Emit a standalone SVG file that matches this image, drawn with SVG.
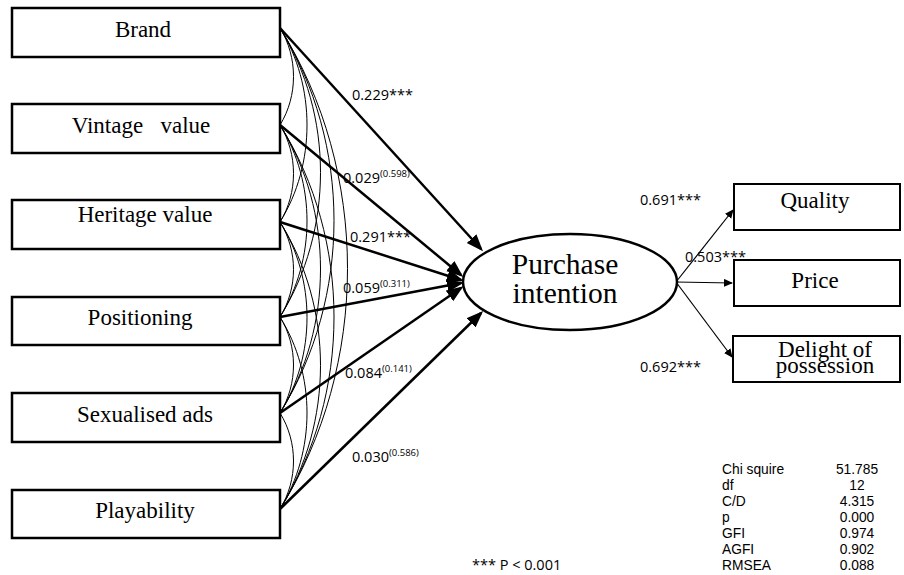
<svg xmlns="http://www.w3.org/2000/svg" width="904" height="575" viewBox="0 0 904 575">
<style>
.box{fill:#fff;stroke:#000;stroke-width:2.5}
.rbox{fill:#fff;stroke:#000;stroke-width:2}
.ser{font-family:"Liberation Serif","Times New Roman",serif;font-size:23px;fill:#000}
.lab{font-family:"Open Sans","Liberation Sans",sans-serif;font-size:14.5px;fill:#000}
.sup{font-size:9.5px}
.st{font-family:"Liberation Sans",Arial,sans-serif;font-size:13.8px;fill:#000}
.main{fill:none;stroke:#000;stroke-width:2.5}
.thin{fill:none;stroke:#000;stroke-width:1.2}
.cor{fill:none;stroke:#000;stroke-width:1}
</style>
<defs>
<marker id="big" markerUnits="userSpaceOnUse" markerWidth="18" markerHeight="14" refX="14" refY="6.5" orient="auto">
<path d="M0,0 L17,6.5 L0,13 z" fill="#000"/>
</marker>
<marker id="small" markerUnits="userSpaceOnUse" markerWidth="10" markerHeight="9" refX="8" refY="4" orient="auto">
<path d="M0,0 L9,4 L0,8 z" fill="#000"/>
</marker>
</defs>
<rect width="904" height="575" fill="#fff"/>

<g id="connectors">
<g id="correlations">
<path class="cor" d="M280,28 C298,57 298,96 280,125"/>
<path class="cor" d="M280,28 C316,86 316,164 280,222"/>
<path class="cor" d="M280,28 C334,115 334,230 280,317"/>
<path class="cor" d="M280,28 C352,144 352,297 280,413"/>
<path class="cor" d="M280,28 C370,172 370,365 280,509"/>
<path class="cor" d="M280,125 C298,154 298,193 280,222"/>
<path class="cor" d="M280,125 C316,183 316,259 280,317"/>
<path class="cor" d="M280,125 C334,211 334,327 280,413"/>
<path class="cor" d="M280,125 C352,240 352,394 280,509"/>
<path class="cor" d="M280,222 C298,251 298,288 280,317"/>
<path class="cor" d="M280,222 C316,279 316,356 280,413"/>
<path class="cor" d="M280,222 C334,308 334,423 280,509"/>
<path class="cor" d="M280,317 C298,346 298,384 280,413"/>
<path class="cor" d="M280,317 C316,375 316,451 280,509"/>
<path class="cor" d="M280,413 C298,442 298,480 280,509"/>
</g>
<path class="main" d="M280,28 L481,249" marker-end="url(#big)"/>
<path class="main" d="M280,125 L461,275" marker-end="url(#big)"/>
<path class="main" d="M280,222 L461,280" marker-end="url(#big)"/>
<path class="main" d="M280,317 L461,283" marker-end="url(#big)"/>
<path class="main" d="M280,413 L461,288" marker-end="url(#big)"/>
<path class="main" d="M280,509 L481,313" marker-end="url(#big)"/>
<path class="thin" d="M676,282 L733,210" marker-end="url(#small)"/>
<path class="thin" d="M676,282 L732,283" marker-end="url(#small)"/>
<path class="thin" d="M676,282 L732,357" marker-end="url(#small)"/>
</g>

<g id="brand"><rect class="box" x="12" y="8" width="268" height="49"/><text class="ser" x="143" y="37" text-anchor="middle">Brand</text></g>
<g id="vintage"><rect class="box" x="12" y="104" width="268" height="49"/><text class="ser" x="141" y="133" text-anchor="middle" xml:space="preserve" style="white-space:pre">Vintage   value</text></g>
<g id="heritage"><rect class="box" x="12" y="200" width="268" height="49"/><text class="ser" x="145" y="222" text-anchor="middle">Heritage value</text></g>
<g id="positioning"><rect class="box" x="12" y="297" width="268" height="48"/><text class="ser" x="140" y="325" text-anchor="middle">Positioning</text></g>
<g id="sexualised"><rect class="box" x="12" y="393" width="268" height="49"/><text class="ser" x="145" y="422" text-anchor="middle">Sexualised ads</text></g>
<g id="playability"><rect class="box" x="12" y="490" width="268" height="48"/><text class="ser" x="145" y="518" text-anchor="middle">Playability</text></g>

<g id="purchase"><ellipse cx="570" cy="282" rx="107" ry="48" fill="#fff" stroke="#000" stroke-width="2.5"/>
<text class="ser" style="font-size:29.5px" x="565" y="274" text-anchor="middle">Purchase</text>
<text class="ser" style="font-size:29.5px" x="565" y="303" text-anchor="middle">intention</text></g>

<g id="quality"><rect class="rbox" x="734" y="184" width="166" height="46"/><text class="ser" x="815" y="208" text-anchor="middle">Quality</text></g>
<g id="price"><rect class="rbox" x="734" y="260" width="166" height="46"/><text class="ser" x="815" y="288" text-anchor="middle">Price</text></g>
<g id="delight"><rect class="rbox" x="733" y="336" width="167" height="46"/><text class="ser" x="825" y="357" text-anchor="middle">Delight of</text><text class="ser" x="825" y="373" text-anchor="middle">possession</text></g>

<g id="labels">
<text class="lab" x="352" y="100">0.229***</text>
<text class="lab" x="343" y="183">0.029<tspan class="sup" dy="-6">(0.598)</tspan></text>
<text class="lab" x="350" y="242">0.291***</text>
<text class="lab" x="343" y="293">0.059<tspan class="sup" dy="-6">(0.311)</tspan></text>
<text class="lab" x="345" y="378">0.084<tspan class="sup" dy="-6">(0.141)</tspan></text>
<text class="lab" x="352" y="462">0.030<tspan class="sup" dy="-6">(0.586)</tspan></text>
<text class="lab" x="640" y="205">0.691***</text>
<text class="lab" x="685" y="262">0.503***</text>
<text class="lab" x="640" y="372">0.692***</text>
</g>

<g id="stats">
<text class="st" x="722" y="474">Chi squire</text><text class="st" x="857" y="474" text-anchor="middle">51.785</text>
<text class="st" x="722" y="490">df</text><text class="st" x="857" y="490" text-anchor="middle">12</text>
<text class="st" x="722" y="506">C/D</text><text class="st" x="857" y="506" text-anchor="middle">4.315</text>
<text class="st" x="722" y="522">p</text><text class="st" x="857" y="522" text-anchor="middle">0.000</text>
<text class="st" x="722" y="538">GFI</text><text class="st" x="857" y="538" text-anchor="middle">0.974</text>
<text class="st" x="722" y="554">AGFI</text><text class="st" x="857" y="554" text-anchor="middle">0.902</text>
<text class="st" x="722" y="570">RMSEA</text><text class="st" x="857" y="570" text-anchor="middle">0.088</text>
</g>
<text id="note" class="lab" x="472" y="570">*** P &lt; 0.001</text>
</svg>
